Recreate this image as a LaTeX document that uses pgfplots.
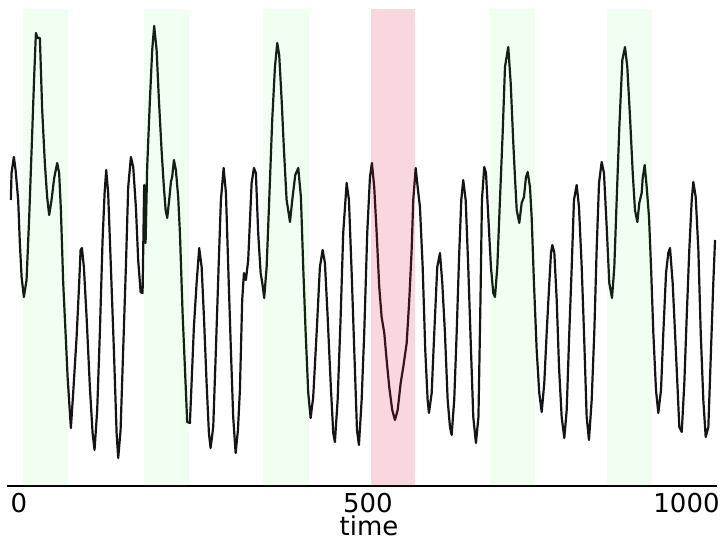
\documentclass[border=0pt]{standalone}
\usepackage{fontspec}
\setmainfont{DejaVu Sans}
\usepackage{pgfplots}
\pgfplotsset{compat=1.18}
\definecolor{bandgreen}{rgb}{0,1,0}
\definecolor{bandred}{RGB}{220,20,60}
\definecolor{sigline}{RGB}{20,20,20}
\begin{document}
\begin{tikzpicture}
\begin{axis}[
 scale only axis, width=355bp, height=238.5bp,
 xmin=-17, xmax=1000, ymin=-236, ymax=241,
 axis y line=none, axis x line*=bottom,
 x axis line style={-, line width=0.85bp, black},
 xtick={0,500}, extra x ticks={1000},
 extra x tick style={xticklabel style={anchor=north east, xshift=1.5bp}},
 major tick length=0pt,
 tick label style={font=\fontsize{13bp}{15bp}\selectfont},
 label style={font=\fontsize{13bp}{15bp}\selectfont},
 xticklabel style={inner sep=0pt, anchor=north, yshift=-3.5bp},
 /pgf/number format/assume math mode=true,
 /pgf/number format/1000 sep={},
 xlabel={time},
 xlabel style={at={(axis description cs:0.51,0)}, anchor=north, inner sep=0pt, yshift=-14.8bp},
]
\addplot[sigline, line width=1.1bp, line join=round] table {
-11.5 50
-10.5 77
-7.2 93
-4.7 80
-1.0 50
1.4 7
3.9 -27
7.2 -47
11.0 -30
14.8 33
19.1 117
21.9 173
24.4 217
26.8 212
30.1 212
33.4 140
37.2 87
40.5 53
43.4 35
46.8 50
50.6 72
54.9 87
57.7 77
60.2 40
63.5 -33
66.9 -83
69.8 -127
74.5 -178
77.8 -143
82.7 -87
86.4 -33
88.4 0
90.3 2
93.1 -17
97.0 -67
101.7 -137
105.6 -183
108.4 -200
112.2 -160
116.0 -83
119.9 10
122.8 57
125.1 80
127.9 57
131.8 -17
136.1 -100
140.0 -183
142.3 -208
145.7 -180
149.4 -100
153.3 -17
156.6 63
160.5 93
163.8 83
167.6 43
170.9 -10
174.4 -42
177.2 -43
179.5 65
181.5 7
183.8 83
187.7 150
191.0 200
193.8 224
197.3 200
200.6 150
204.4 100
207.7 63
210.2 40
212.5 32
215.3 50
217.8 68
219.6 73
222.1 90
224.9 80
228.2 53
230.7 17
234.5 -63
237.8 -117
241.1 -172
245.0 -173
247.4 -133
250.7 -77
254.6 -33
258.3 2
261.8 -17
265.1 -67
268.9 -133
272.2 -183
274.6 -198
278.4 -177
282.2 -100
286.1 -17
289.4 50
293.3 82
296.6 57
299.9 -17
303.7 -100
307.0 -167
310.5 -203
313.8 -180
316.6 -140
319.9 -50
322.4 -23
325.2 -30
328.5 -10
333.4 67
336.7 82
339.5 77
342.8 17
346.3 -23
349.1 -35
351.4 -48
354.9 -17
358.6 50
362.9 130
366.8 183
370.1 207
372.9 195
376.4 150
379.7 100
383.5 50
386.4 37
388.3 28
392.1 53
395.9 75
400.2 82
404.0 53
407.3 -17
410.8 -83
414.5 -143
417.9 -168
421.6 -147
426.5 -83
431.2 -17
435.1 0
438.4 -13
442.3 -67
446.6 -133
450.3 -183
452.7 -192
456.6 -150
460.9 -67
464.6 17
469.5 67
472.8 50
476.7 -23
480.4 -100
484.3 -180
487.1 -195
491.0 -150
494.7 -83
499.0 17
502.9 73
505.7 87
509.0 63
512.5 17
516.2 -37
519.6 -67
523.4 -83
526.8 -110
530.5 -137
534.8 -160
538.7 -170
542.6 -160
546.9 -133
550.6 -117
555.5 -93
559.2 -50
562.6 0
564.9 50
568.4 82
571.2 63
574.5 43
578.4 -17
582.1 -100
585.5 -150
587.4 -163
591.3 -143
595.0 -83
599.3 -17
603.2 -3
606.5 -33
610.3 -83
614.2 -150
617.5 -177
619.9 -185
623.6 -150
627.1 -83
630.4 -10
633.7 50
636.5 70
640.0 50
643.7 -17
647.6 -100
650.9 -167
654.7 -193
658.3 -167
661.2 -50
663.3 50
666.6 83
669.1 77
672.4 33
676.2 -17
679.5 -43
682.0 -47
685.3 -17
689.1 50
693.0 117
696.3 183
701.0 203
704.5 167
708.2 107
710.6 73
713.1 40
716.8 27
720.2 47
723.5 53
726.4 73
728.8 78
732.1 63
734.5 33
737.8 -33
741.7 -100
745.4 -143
748.9 -162
752.6 -133
756.0 -83
759.8 -33
762.2 -3
764.1 5
767.0 -3
770.4 -50
773.7 -117
777.5 -167
781.3 -188
784.7 -160
788.4 -83
791.9 -17
795.1 50
799.0 65
802.3 43
806.2 -17
809.5 -83
813.3 -167
816.6 -190
820.5 -150
824.2 -83
827.6 0
831.0 67
834.8 88
838.1 77
842.0 23
845.7 -33
849.6 -48
852.9 -17
856.3 50
860.1 123
864.4 190
868.2 203
871.5 183
875.4 133
879.3 77
882.5 40
885.9 28
888.7 47
892.1 57
893.6 72
896.4 85
899.3 63
902.6 33
905.5 -17
908.8 -83
912.6 -140
915.9 -163
919.8 -140
923.1 -83
927.0 -23
930.2 -3
932.7 2
936.5 -33
939.9 -83
943.2 -133
946.0 -177
949.5 -182
953.2 -133
956.6 -67
960.3 0
963.8 50
966.1 68
969.5 53
973.3 0
976.7 -83
980.4 -150
983.8 -187
987.6 -177
991.4 -100
994.7 -33
997.2 10
};
% shaded intervals, drawn over the signal with transparency
\addplot[draw=none, fill=bandgreen, fill opacity=0.06] coordinates {(5.7,-236) (70.2,-236) (70.2,241) (5.7,241)};
\addplot[draw=none, fill=bandgreen, fill opacity=0.06] coordinates {(179.1,-236) (243.6,-236) (243.6,241) (179.1,241)};
\addplot[draw=none, fill=bandgreen, fill opacity=0.06] coordinates {(350.0,-236) (415.0,-236) (415.0,241) (350.0,241)};
\addplot[draw=none, fill=bandred, fill opacity=0.17] coordinates {(504.5,-236) (567.4,-236) (567.4,241) (504.5,241)};
\addplot[draw=none, fill=bandgreen, fill opacity=0.06] coordinates {(674.8,-236) (739.3,-236) (739.3,241) (674.8,241)};
\addplot[draw=none, fill=bandgreen, fill opacity=0.06] coordinates {(842.0,-236) (906.5,-236) (906.5,241) (842.0,241)};
\end{axis}
\path (current axis.south west) ++(-3.5bp,-27.5bp) rectangle ++(361.5bp,270.5bp);
\end{tikzpicture}
\end{document}
